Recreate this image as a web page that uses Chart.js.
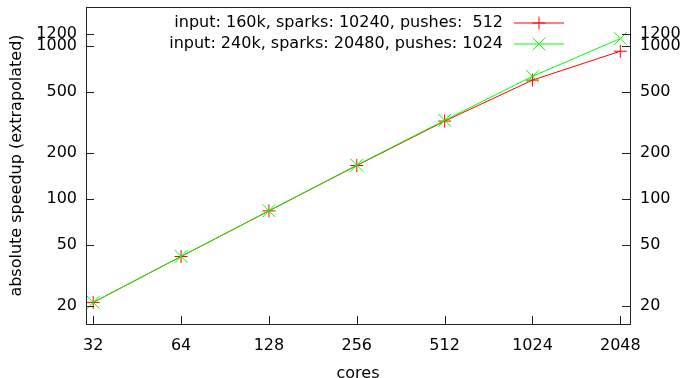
<!DOCTYPE html>
<html>
<head>
<meta charset="utf-8">
<script src="https://cdn.jsdelivr.net/npm/chart.js@4/dist/chart.umd.min.js"></script>
<style>
  html, body { margin: 0; padding: 0; background: #fff; }
</style>
</head>
<body>
<canvas id="speedupChart" width="681" height="378"></canvas>
<script>
const cores = [32, 64, 128, 256, 512, 1024, 2048];
const speedup160k = [21, 41.9, 83.3, 165, 322, 597, 922];
const speedup240k = [21, 42, 83.5, 166, 326, 632, 1116];
const xTicks = [32, 64, 128, 256, 512, 1024, 2048];
const yTicks = [20, 50, 100, 200, 500, 1000, 1200];
const seriesLabels = [
  'input: 160k, sparks: 10240, pushes:  512',
  'input: 240k, sparks: 20480, pushes: 1024'
];

const FONT = { family: 'DejaVu Sans', size: 16 };
const INK = '#222';

Chart.defaults.font.family = FONT.family;
Chart.defaults.font.size = FONT.size;
Chart.defaults.color = '#000';

function fixedTicks(values) {
  return scale => { scale.ticks = values.map(v => ({ value: v })); };
}

function fitTo(size) {
  return scale => {
    if (scale.isHorizontal()) scale.height = size;
    else scale.width = size;
    scale.paddingTop = scale.paddingBottom = 0;
    scale.paddingLeft = scale.paddingRight = 0;
  };
}

// gnuplot style frame: box round the plot with ticks pointing inwards
const framePlugin = {
  id: 'frame',
  afterDatasetsDraw(chart) {
    const { ctx, chartArea: a, scales } = chart;
    ctx.save();
    ctx.strokeStyle = INK;
    ctx.lineWidth = 1;
    ctx.beginPath();
    xTicks.forEach(v => {
      const x = Math.round(scales.x.getPixelForValue(v)) + 0.5;
      ctx.moveTo(x, a.bottom);
      ctx.lineTo(x, a.bottom - 8);
    });
    yTicks.forEach(v => {
      const y = Math.round(scales.y.getPixelForValue(v)) + 0.5;
      ctx.moveTo(a.left, y);
      ctx.lineTo(a.left + 8, y);
      ctx.moveTo(a.right, y);
      ctx.lineTo(a.right - 8, y);
    });
    ctx.stroke();
    ctx.strokeRect(a.left + 0.5, a.top + 0.5, a.right - a.left, a.bottom - a.top);
    ctx.restore();
  }
};

// key in the top right corner, text right aligned before the sample
const keyPlugin = {
  id: 'key',
  afterDraw(chart) {
    const { ctx } = chart;
    const rows = [23, 44];
    ctx.save();
    ctx.font = FONT.size + 'px ' + FONT.family;
    ctx.textAlign = 'right';
    ctx.textBaseline = 'middle';
    chart.data.datasets.forEach((ds, i) => {
      const y = rows[i];
      ctx.fillStyle = '#000';
      ctx.fillText(ds.label, 503, y);
      ctx.strokeStyle = ds.borderColor;
      ctx.lineWidth = 1.2;
      ctx.beginPath();
      ctx.moveTo(514, y);
      ctx.lineTo(564, y);
      ctx.stroke();
      ctx.lineWidth = 1;
      Chart.helpers.drawPoint(ctx, {
        pointStyle: ds.pointStyle,
        radius: ds.pointRadius,
        borderWidth: 1,
        rotation: 0
      }, 539, y);
    });
    ctx.restore();
  }
};

new Chart(document.getElementById('speedupChart'), {
  type: 'line',
  data: {
    datasets: [
      {
        label: seriesLabels[0],
        data: cores.map((c, i) => ({ x: c, y: speedup160k[i] })),
        borderColor: '#ff0000',
        backgroundColor: '#ff0000',
        borderWidth: 1,
        pointStyle: 'cross',
        pointRadius: 6.5,
        pointBorderWidth: 1,
        order: 1
      },
      {
        label: seriesLabels[1],
        data: cores.map((c, i) => ({ x: c, y: speedup240k[i] })),
        borderColor: '#00ff00',
        backgroundColor: '#00ff00',
        borderWidth: 1,
        pointStyle: 'crossRot',
        pointRadius: 9,
        pointBorderWidth: 1,
        order: 0
      }
    ]
  },
  options: {
    responsive: false,
    animation: false,
    layout: { autoPadding: false, padding: { top: 7, left: 0, right: 0, bottom: 0 } },
    plugins: {
      legend: { display: false },
      tooltip: { enabled: false }
    },
    scales: {
      x: {
        type: 'logarithmic',
        position: 'bottom',
        min: 30.23,
        max: 2210,
        afterBuildTicks: fixedTicks(xTicks),
        afterFit: fitTo(54),
        grid: { display: false },
        border: { display: false },
        ticks: { callback: v => String(v), autoSkip: false, maxRotation: 0, padding: 4 },
        title: { display: true, text: 'cores', padding: { top: 0, bottom: -5 } }
      },
      y: {
        type: 'logarithmic',
        position: 'left',
        min: 15.17,
        max: 1795,
        afterBuildTicks: fixedTicks(yTicks),
        afterFit: fitTo(86),
        grid: { display: false },
        border: { display: false },
        ticks: { callback: v => String(v), autoSkip: false, padding: 1 },
        title: { display: true, text: 'absolute speedup (extrapolated)', padding: { top: 7, bottom: 0 } }
      },
      y2: {
        type: 'logarithmic',
        position: 'right',
        min: 15.17,
        max: 1795,
        afterBuildTicks: fixedTicks(yTicks),
        afterFit: fitTo(51),
        grid: { display: false },
        border: { display: false },
        ticks: { callback: v => String(v), autoSkip: false, padding: 2 }
      }
    }
  },
  plugins: [framePlugin, keyPlugin]
});
</script>
</body>
</html>
